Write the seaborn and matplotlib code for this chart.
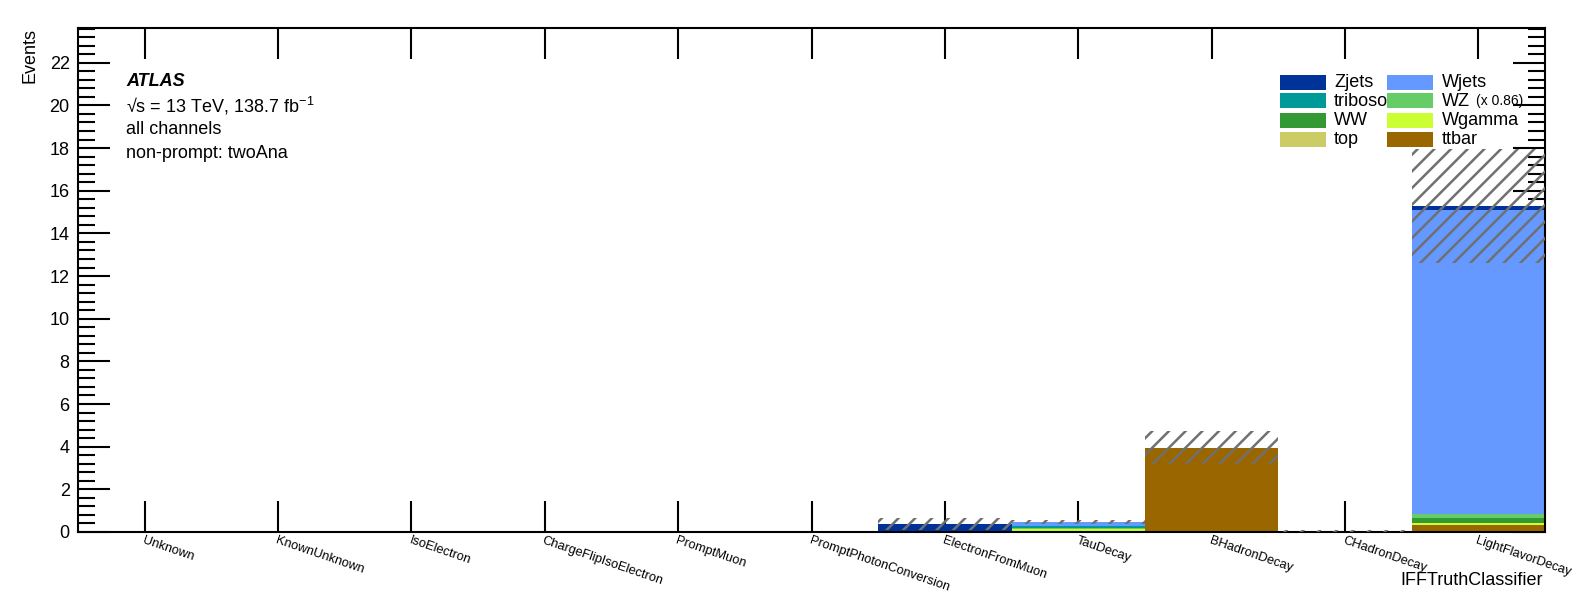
import numpy as np
import pandas as pd
import seaborn as sns
import matplotlib.pyplot as plt
from matplotlib.patches import Rectangle
from matplotlib.ticker import MultipleLocator

# bins of the truth classifier
categories = ['Unknown', 'KnownUnknown', 'IsoElectron', 'ChargeFlipIsoElectron', 'PromptMuon',
              'PromptPhotonConversion', 'ElectronFromMuon', 'TauDecay', 'BHadronDecay',
              'CHadronDecay', 'LightFlavorDecay']

# event yields per process
zjets    = [0, 0, 0, 0, 0, 0, 0.36, 0.00, 0.00, 0.00, 0.20]
wjets    = [0, 0, 0, 0, 0, 0, 0.00, 0.20, 0.00, 0.05, 14.26]
triboson = [0, 0, 0, 0, 0, 0, 0.00, 0.08, 0.00, 0.00, 0.00]
wz       = [0, 0, 0, 0, 0, 0, 0.00, 0.04, 0.00, 0.00, 0.18]
ww       = [0, 0, 0, 0, 0, 0, 0.00, 0.04, 0.00, 0.00, 0.22]
wgamma   = [0, 0, 0, 0, 0, 0, 0.00, 0.06, 0.00, 0.00, 0.11]
top      = [0, 0, 0, 0, 0, 0, 0.00, 0.03, 0.00, 0.00, 0.00]
ttbar    = [0, 0, 0, 0, 0, 0, 0.00, 0.03, 3.95, 0.00, 0.33]

# total uncertainty on the stack
stat_err = [0, 0, 0, 0, 0, 0, 0.28, 0.10, 0.77, 0.04, 2.67]

processes = ['Zjets', 'Wjets', 'triboson', 'WZ', 'WW', 'Wgamma', 'top', 'ttbar']
yields = [zjets, wjets, triboson, wz, ww, wgamma, top, ttbar]
colors = {'Zjets': '#003399', 'triboson': '#009999', 'WW': '#339933', 'top': '#cccc66',
          'Wjets': '#6699ff', 'WZ': '#66cc66', 'Wgamma': '#ccff33', 'ttbar': '#996600'}

rows = []
for name, vals in zip(processes, yields):
    for i, v in enumerate(vals):
        rows.append({'bin': i, 'events': v, 'process': name})
df = pd.DataFrame(rows)

sns.set_style('ticks')
plt.rcParams['font.family'] = ['Liberation Sans', 'DejaVu Sans']
plt.rcParams['mathtext.fontset'] = 'custom'
plt.rcParams['mathtext.rm'] = 'Liberation Sans'
plt.rcParams['mathtext.it'] = 'Liberation Sans:italic'
plt.rcParams['hatch.linewidth'] = 1.8
plt.rcParams['axes.linewidth'] = 1.5
for key in ['text.color', 'axes.labelcolor', 'xtick.color', 'ytick.color', 'axes.edgecolor']:
    plt.rcParams[key] = 'black'

W, H = 1575, 609
fig = plt.figure(figsize=(W / 100, H / 100), dpi=100)
ax = fig.add_axes([78 / W, 1 - 532 / H, 1467 / W, 504 / H])

sns.histplot(data=df, x='bin', weights='events', hue='process', hue_order=processes,
             multiple='stack', discrete=True, shrink=1, palette=colors, alpha=1,
             linewidth=0, legend=False, ax=ax)

# hatched uncertainty band
total = np.sum(np.array(yields), axis=0)
err = np.array(stat_err)
ax.bar(np.arange(len(categories)), 2 * err, bottom=total - err, width=1,
       fill=False, hatch='//', edgecolor='#707070', linewidth=0, zorder=3)

ax.set_xlim(-0.5, len(categories) - 0.5)
ax.set_ylim(0, 23.63)

ax.set_xticks(np.arange(len(categories)))
ax.set_xticklabels(categories, rotation=-19, ha='left', va='top',
                   rotation_mode='anchor', fontsize=9.3)
ax.tick_params(axis='x', direction='in', length=22, width=1.5, top=True, pad=2)
ax.yaxis.set_major_locator(MultipleLocator(2))
ax.yaxis.set_minor_locator(MultipleLocator(0.4))
ax.tick_params(axis='y', which='major', direction='in', length=23, width=1.5,
               right=True, labelsize=13, pad=6)
ax.tick_params(axis='y', which='minor', direction='in', length=12, width=1.5, right=True)

ax.set_ylabel('Events', loc='top', fontsize=13)
ax.yaxis.set_label_coords(-0.027, 1.0)
ax.set_xlabel('IFFTruthClassifier', loc='right', fontsize=13)
ax.xaxis.set_label_coords(0.9986, -0.079)

# ATLAS label
ax.text(126 / W, 1 - 82 / H, 'ATLAS', transform=fig.transFigure, fontsize=13,
        fontweight='bold', fontstyle='italic', va='center')
ax.text(126 / W, 1 - 106 / H, '√s = 13 TeV, 138.7 fb$^{-1}$', transform=fig.transFigure,
        fontsize=13, va='center')
ax.text(126 / W, 1 - 129 / H, 'all channels', transform=fig.transFigure, fontsize=13, va='center')
ax.text(126 / W, 1 - 154 / H, 'non-prompt: twoAna', transform=fig.transFigure,
        fontsize=13, va='center')

# legend, two columns
leg_cols = [['Zjets', 'triboson', 'WW', 'top'], ['Wjets', 'WZ', 'Wgamma', 'ttbar']]
box_x = [1280, 1387]
text_x = [1334, 1442]
row_y = [82.5, 101, 120.5, 139.5]
for c, names in enumerate(leg_cols):
    for r, name in enumerate(names):
        fig.add_artist(Rectangle((box_x[c] / W, 1 - (row_y[r] + 7.5) / H), 46 / W, 15 / H,
                                 transform=fig.transFigure, facecolor=colors[name],
                                 edgecolor='none', zorder=5 + c))
        fig.text(text_x[c] / W, 1 - row_y[r] / H, name, fontsize=13, va='center', zorder=4)
fig.text(1476 / W, 1 - 101 / H, '(x 0.86)', fontsize=10, va='center', zorder=4)

plt.savefig('out.png', dpi=100)
